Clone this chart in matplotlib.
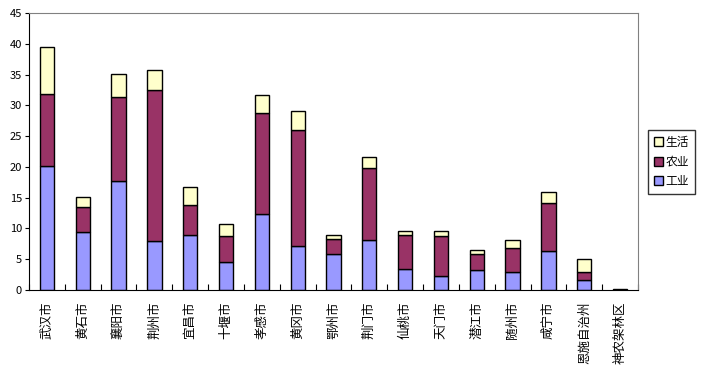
import matplotlib
matplotlib.use("Agg")
import matplotlib.pyplot as plt
import numpy as np

plt.rcParams['font.family'] = ['Noto Sans CJK SC', 'DejaVu Sans']

cities = ['武汉市', '黄石市', '襄阳市', '荆州市', '宜昌市', '十堰市', '孝感市', '黄冈市', '鄂州市',
          '荆门市', '仙桃市', '天门市', '潜江市', '随州市', '咸宁市', '恩施自治州', '神农架林区']
industry = [20.1, 9.4, 17.7, 7.9, 8.9, 4.5, 12.3, 7.1, 5.8, 8.1, 3.4, 2.2, 3.2, 3.0, 6.3, 1.6, 0.05]
agriculture = [11.7, 4.05, 13.6, 24.6, 4.9, 4.2, 16.4, 18.9, 2.5, 11.7, 5.5, 6.5, 2.6, 3.8, 7.8, 1.4, 0.03]
living = [7.6, 1.65, 3.8, 3.2, 2.9, 2.1, 3.0, 3.1, 0.6, 1.8, 0.7, 0.9, 0.7, 1.3, 1.8, 2.0, 0.02]

fig = plt.figure(figsize=(7.03, 3.72), dpi=100)
ax = fig.add_axes([29 / 703, 1 - 290 / 372, 609 / 703, 277 / 372])

x = np.arange(len(cities))
w = 0.4
ax.bar(x, industry, w, color='#9999FF', edgecolor='black', linewidth=1, label='工业')
ax.bar(x, agriculture, w, bottom=industry, color='#993366', edgecolor='black', linewidth=1, label='农业')
bottom2 = np.array(industry) + np.array(agriculture)
ax.bar(x, living, w, bottom=bottom2, color='#FFFFCC', edgecolor='black', linewidth=1, label='生活')

ax.set_xlim(-0.5, len(cities) - 0.5)
ax.set_ylim(0, 45)
ax.set_yticks(range(0, 46, 5))
ax.tick_params(axis='y', labelsize=8, length=3, direction='out', pad=2)

ax.set_xticks(np.arange(len(cities) + 1) - 0.5, minor=False)
ax.set_xticklabels([])
ax.tick_params(axis='x', length=4, direction='in')
for i, c in enumerate(cities):
    ax.text(i, -1.9, c, ha='center', va='top', rotation=90, fontsize=9)

for s in ['top', 'right']:
    ax.spines[s].set_color('#808080')
for s in ['left', 'bottom']:
    ax.spines[s].set_color('black')

h, l = ax.get_legend_handles_labels()
leg = fig.legend(h[::-1], l[::-1], loc='upper left', bbox_to_anchor=(648 / 703, 1 - 130 / 372),
                 fontsize=8.5, frameon=True, fancybox=False, edgecolor='black',
                 handlelength=0.8, handleheight=0.8, handletextpad=0.2, borderpad=0.5,
                 labelspacing=0.55, borderaxespad=0)
leg.get_frame().set_linewidth(1)

fig.savefig('out.png', dpi=100)
